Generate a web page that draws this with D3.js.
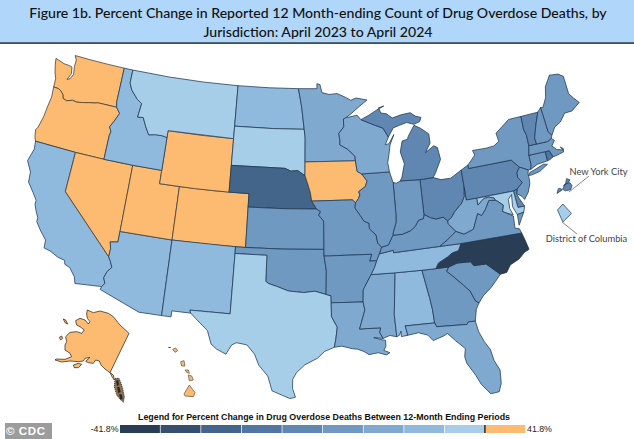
<!DOCTYPE html>
<html><head><meta charset="utf-8">
<script src="https://cdn.jsdelivr.net/npm/d3@7"></script>
<style>html,body{margin:0;padding:0;background:#fff}svg{display:block}</style>
</head><body><svg id="c" width="634" height="439"></svg>
<script>
// ---------- estimated values (percent change) ----------
const stateNames = ["WA","OR","CA","NV","AZ","UT","CO","WY","NM","ID","MT","ND","SD","NE","KS","OK","TX","MN","IA","MO","AR","LA","MS","AL","GA","FL","SC","NC","TN","KY","OH","IN","IL","WI","MIU","MIL","PA","NY","LI","NJ","DE","MD","VA","VAE","WV","CT","RI","MA","VT","NH","ME"];
const stateChanges = [3,2,-8,4,-8,1,2,3,-8,-8,-3,-8,-3,-30,-16,-17,-3,-11,2,-16,-17,-11,-11,-7,-16,-12,-16,-39,-9,-16,-21,-16,-16,-12,-20,-20,-19,-17,-17,-16,-21,-4,-16,-16,-11,-16,-24,-16,-21,-16,-17];
const legendBins = [-37.2,-32.5,-27.9,-23.2,-18.6,-13.9,-9.3,-4.6,0];
const legendColors = ["#293e55","#35506f","#43658a","#4f77a2","#5f87b2","#7099c2","#80a9d0","#90badd","#a6cee8","#fdbb72"];
const titleLines = ["Figure 1b. Percent Change in Reported 12 Month-ending Count of Drug Overdose Deaths, by","Jurisdiction: April 2023 to April 2024"];
const legendTitle = "Legend for Percent Change in Drug Overdose Deaths Between 12-Month Ending Periods";
const legendEnds = ["-41.8%","41.8%"];
const insets = [{name:"New York City",value:-20},{name:"District of Columbia",value:-3}];
const akVal=3,hiVal=2;

// ---------- shared borders (lon,lat) ----------
const snake=[[-116.92,46],[-116.7,45.8],[-116.47,45.6],[-116.7,45.2],[-116.85,44.95],[-117.2,44.45],[-117.03,44.25],[-116.95,44.1],[-117.03,43.8],[-117.03,42]];
const columbia=[[-124.05,46.27],[-123.5,46.25],[-123.2,46.15],[-122.85,45.9],[-122.75,45.65],[-122.3,45.55],[-121.7,45.7],[-121.2,45.65],[-120.6,45.73],[-119.9,45.85],[-119.3,45.93],[-119,46],[-116.92,46]];
const idMt=[[-116.05,49],[-116.05,48],[-115.7,47.5],[-114.9,46.9],[-114.35,46.65],[-114.5,45.6],[-113.9,45.65],[-113.45,45],[-113,44.45],[-112.3,44.55],[-111.5,44.55],[-111.05,44.47]];
const caRiver=[[-114.72,32.72],[-114.5,33],[-114.7,33.4],[-114.5,33.9],[-114.15,34.27],[-114.4,34.7],[-114.63,35]];
const redRiver=[[-100,34.56],[-99.7,34.4],[-98.9,34.2],[-97.9,33.9],[-97.2,33.85],[-96.5,33.8],[-95.5,33.9],[-94.49,33.65]];
const sdNe=[[-104.05,43],[-98.5,43],[-97.9,42.8],[-97.2,42.85],[-96.7,42.6],[-96.45,42.49]];
const moRiverN=[[-95.3,40],[-95.77,40.59],[-95.9,41.2],[-96.1,41.7],[-96.45,42.49]];
const ksMoN=[[-95.3,40],[-94.9,39.8],[-95.1,39.55],[-94.61,39.1],[-94.62,37]];
const mnWi=[[-92.05,46.75],[-92.3,46.66],[-92.29,46.08],[-92.85,45.6],[-92.75,45],[-92.8,44.75],[-92,44.4],[-91.25,43.85],[-91.22,43.5]];
const ilIa=[[-90.65,42.5],[-90.15,41.95],[-90.35,41.55],[-91.05,41.2],[-90.95,40.95],[-91.1,40.7],[-91.42,40.38]];
const ilMo=[[-91.42,40.38],[-91.5,40],[-91,39.4],[-90.7,39],[-90.2,38.8],[-90.2,38.4],[-89.6,37.9],[-89.5,37.3],[-89.15,36.98]];
const misMid=[[-89.4,36.5],[-89.7,36],[-89.95,35.5],[-90.3,35]];
const misLow=[[-90.3,35],[-90.6,34.6],[-91.1,33.9],[-91.17,33]];
const savannah=[[-83.11,35],[-83.35,34.7],[-82.75,34.2],[-82,33.5],[-81.5,33],[-81.15,32.2],[-80.87,32.03]];
const tnNc=[[-84.32,35],[-84,35.4],[-83.1,35.75],[-82.6,36],[-82,36.1],[-81.68,36.59]];
const scNc=[[-83.11,35],[-82.3,35.2],[-81.05,35.15],[-80.8,34.82],[-79.68,34.8],[-78.55,33.86]];
const ohioE=[[-84.82,39.1],[-84.2,38.8],[-83.7,38.65],[-83,38.72],[-82.6,38.4]];
const ohioW=[[-84.82,39.1],[-84.9,38.8],[-85.4,38.72],[-85.8,38.28],[-86.3,38],[-87.1,37.8],[-88,37.8]];
const ohioWv=[[-82.6,38.4],[-82.2,38.6],[-81.8,39],[-81,39.55],[-80.65,40],[-80.52,40.64]];
const ilIn=[[-87.53,41.7],[-87.53,39.3],[-87.6,38.7],[-87.95,38],[-88,37.8]];
const kyVa=[[-83.68,36.6],[-82.9,37],[-81.97,37.54]];
const vaWv=[[-81.97,37.54],[-81.25,37.25],[-80.3,37.5],[-79.65,38.6],[-79.3,38.4],[-78.87,38.76],[-78.35,39.4],[-77.72,39.32]];
const potomacW=[[-79.48,39.2],[-78.8,39.6],[-78.35,39.65],[-77.8,39.5],[-77.72,39.32]];
const potomacE=[[-77.72,39.32],[-77.5,39.2],[-77.05,38.85],[-77.25,38.4],[-76.95,38.25],[-76.3,38]];
const delaware=[[-75.4,39.8],[-74.75,40.2],[-75.1,40.65],[-75.05,41],[-74.7,41.36]];
const nhVt=[[-72.46,42.73],[-72.5,43.2],[-72.05,44.1],[-71.5,45.01]];
const rev=a=>a.slice().reverse();

// ---------- state outlines (lon,lat) ----------
const WA=[[[-116.92,46],...rev(columbia).slice(1),[-124.1,46.9],[-124.35,47.3],[-124.6,47.9],[-124.73,48.38],[-123.7,48.17],[-123.1,48.15],[-122.75,48.1],[-122.6,47.6],[-122.9,47.1],[-122.6,47.2],[-122.35,47.6],[-122.5,48.2],[-122.5,48.7],[-122.76,49],[-121,49],[-119,49],[-117.04,49],[-117.04,46.42]]];
const OR=[[...columbia,...snake.slice(1),[-120,42],[-124.21,42],[-124.4,42.3],[-124.55,42.84],[-124.4,43],[-124.15,43.9],[-124.07,44.7],[-123.95,45.5]]];
const CA=[[[-124.21,42],[-120,42],[-120,39],[-114.63,35],...rev(caRiver).slice(1),[-117.12,32.53],[-117.3,33],[-117.9,33.6],[-118.4,33.75],[-118.5,34.03],[-119.2,34.15],[-120,34.45],[-120.6,34.55],[-120.65,35.15],[-121.3,35.7],[-121.9,36.3],[-121.9,36.6],[-122.2,37],[-122.5,37.5],[-122.5,37.8],[-123,38.3],[-123.7,38.95],[-123.8,39.7],[-124.4,40.44],[-124.1,41.4]]];
const NV=[[[-120,42],[-117.03,42],[-114.04,42],[-114.04,37],[-114.05,36.2],[-114.75,36.1],[-114.6,35.6],[-114.63,35],[-120,39]]];
const AZ=[[...caRiver,[-114.6,35.6],[-114.75,36.1],[-114.05,36.2],[-114.04,37],[-109.05,37],[-109.05,31.33],[-111.07,31.33],[-114.81,32.49]]];
const UT=[[[-114.04,42],[-111.05,42],[-111.05,41],[-109.05,41],[-109.05,37],[-114.04,37]]];
const CO=[[[-109.05,41],[-105.5,41],[-102.05,41],[-102.05,37],[-105.5,37],[-109.05,37]]];
const WY=[[[-111.05,45],[-107.5,45],[-104.05,45],[-104.05,43],[-104.05,41],[-107.5,41],[-111.05,41],[-111.05,42],[-111.05,44.47]]];
const NM=[[[-109.05,37],[-103,37],[-103,36.5],[-103.04,32],[-106.62,32],[-106.53,31.78],[-108.21,31.78],[-108.21,31.33],[-109.05,31.33]]];
const ID=[[[-117.04,49],...idMt,[-111.05,42],[-114.04,42],[-117.03,42],...rev(snake).slice(1),[-117.04,46.42]]];
const MT=[[...idMt,[-111.05,45],[-104.05,45],[-104.05,45.94],[-104.05,49],[-108,49],[-112,49]]];
const ND=[[[-104.05,49],[-100.5,49],[-97.23,49],[-96.85,47.6],[-96.56,45.94],[-100,45.94],[-104.05,45.94]]];
const SD=[[[-104.05,45.94],[-100,45.94],[-96.56,45.94],[-96.45,45.3],[-96.45,43.5],[-96.45,42.49],...rev(sdNe).slice(1),[-104.05,45]]];
const NE=[[...sdNe,...rev(moRiverN).slice(1),[-98.5,40],[-102.05,40],[-102.05,41],[-104.05,41]]];
const KS=[[[-102.05,40],[-98.5,40],...ksMoN,[-98.5,37],[-102.05,37]]];
const OK=[[[-103,37],[-102.05,37],[-98.5,37],[-94.62,37],[-94.62,36.5],[-94.43,35.4],...rev(redRiver),[-100,36.5],[-103,36.5]]];
const TX=[[[-103,36.5],[-100,36.5],...redRiver,[-94.04,33.55],[-94.04,33.02],[-94.04,31.99],[-93.55,31.2],[-93.7,30.3],[-93.85,29.7],[-94.7,29.4],[-95.3,28.9],[-96.4,28.4],[-97.1,27.8],[-97.4,27.3],[-97.4,26.6],[-97.15,25.96],[-97.6,25.85],[-98.2,26.07],[-99.1,26.4],[-99.5,27.5],[-100.3,28.3],[-100.7,29.1],[-101.4,29.77],[-102.3,29.88],[-102.7,29.7],[-103.15,28.97],[-104,29.3],[-104.5,29.65],[-104.9,30.6],[-106,31.4],[-106.53,31.78],[-106.62,32],[-103.04,32]]];
const MN=[[[-97.23,49],[-95.15,49],[-95.15,49.38],[-94.8,49.3],[-94.6,48.7],[-93.8,48.55],[-92.9,48.6],[-92,48.3],[-91.4,48.05],[-90.8,48.2],[-89.6,48],[-90.5,47.55],[-91.5,47],...mnWi,[-96.45,43.5],[-96.45,45.3],[-96.56,45.94],[-96.85,47.6]]];
const IA=[[[-96.45,43.5],[-91.22,43.5],[-91.1,42.7],...ilIa,[-91.73,40.61],[-95.77,40.59],[-95.9,41.2],[-96.1,41.7],[-96.45,42.49]]];
const MO=[[[-95.77,40.59],[-91.73,40.61],...ilMo,[-89.4,36.5],[-89.7,36],[-90.37,36],[-90.15,36.5],[-94.62,36.5],...rev(ksMoN)]];
const AR=[[[-94.62,36.5],[-90.15,36.5],[-90.37,36],[-89.7,36],[-89.95,35.5],...misLow,[-94.04,33.02],[-94.04,33.55],[-94.49,33.65],[-94.43,35.4]]];
const LA=[[[-94.04,33.02],[-91.17,33],[-91.05,32.4],[-91.6,31],[-89.75,31],[-89.85,30.65],[-89.6,30.2],[-90.4,30.3],[-89.7,30.1],[-89.4,30.05],[-89.4,29.6],[-89.6,29.3],[-89.1,29.1],[-89.4,28.95],[-90.1,29.15],[-90.9,29.05],[-91.3,29.3],[-91.85,29.5],[-92.3,29.55],[-93.2,29.77],[-93.85,29.7],[-93.7,30.3],[-93.55,31.2],[-94.04,31.99]]];
const MS=[[[-90.3,35],[-88.2,35],[-88.1,34.9],[-88.47,31.9],[-88.4,30.25],[-89,30.38],[-89.6,30.2],[-89.85,30.65],[-89.75,31],[-91.6,31],[-91.05,32.4],[-91.17,33],[-91.1,33.9],[-90.6,34.6]]];
const AL=[[[-88.2,35],[-85.6,35],[-85.18,32.87],[-85.05,32],[-85,31],[-87.6,31],[-87.45,30.4],[-87.5,30.28],[-88,30.23],[-88,30.65],[-88.15,30.35],[-88.4,30.25],[-88.47,31.9],[-88.1,34.9]]];
const GA=[[[-85.6,35],[-84.32,35],...savannah,[-81.2,31.6],[-81.45,30.72],[-82.05,30.75],[-82.2,30.57],[-84.86,30.7],[-85,31],[-85.05,32],[-85.18,32.87]]];
const FL=[[[-87.6,31],[-85,31],[-84.86,30.7],[-82.2,30.57],[-82.05,30.75],[-81.45,30.72],[-81.3,29.9],[-80.95,29.1],[-80.55,28.45],[-80.4,27.6],[-80.03,26.8],[-80.12,25.8],[-80.4,25.2],[-81.1,25.15],[-81.75,25.95],[-82.1,26.7],[-82.7,27.7],[-82.8,28.2],[-82.65,28.8],[-83.4,29.5],[-84,30.1],[-84.35,29.95],[-85.3,29.7],[-85.7,30.15],[-86.5,30.4],[-87.5,30.28],[-87.45,30.4]]];
const SC=[[...scNc,[-79.1,33.4],[-79.6,33],[-80.4,32.5],...rev(savannah).slice(0,-1)]];
const NC=[[...tnNc,[-75.87,36.55],[-75.7,36],[-75.52,35.25],[-76,35.1],[-76.6,34.7],[-77.5,34.4],[-77.95,33.9],...rev(scNc)]];
const TN=[[[-90.3,35],[-88.2,35],[-85.6,35],...tnNc,[-83.68,36.6],[-88.07,36.5],[-88.07,36.68],...misMid]];
const KY=[[[-89.4,36.5],[-88.07,36.68],[-88.07,36.5],...kyVa,[-82.6,38.17],...rev(ohioE),...ohioW.slice(1),[-88.5,37.1],[-89.15,36.98]]];
const OH=[[...ohioE,...ohioWv.slice(1),[-80.52,41.98],[-81.7,41.5],[-82.7,41.5],[-83.45,41.73],[-84.8,41.7]]];
const IN=[[...ohioW,...rev(ilIn).slice(1),[-87.2,41.62],[-86.8,41.76],[-84.8,41.7]]];
const IL=[[...ilIa,...ilMo.slice(1),[-88.5,37.1],...rev(ilIn),[-87.6,41.9],[-87.8,42.5]]];
const WI=[[...mnWi,[-91.1,42.7],[-90.65,42.5],[-87.8,42.5],[-87.9,43.2],[-87.7,43.8],[-87.5,44.5],[-87,45.25],[-87.6,44.6],[-88,44.55],[-87.6,45.1],[-88.1,45.8],[-88.9,46.05],[-90.4,46.55],[-90.8,46.9],[-91.2,46.85]]];
const MIU=[[[-90.4,46.55],[-88.9,46.05],[-88.1,45.8],[-87.6,45.1],[-87,45.75],[-86.3,45.9],[-85.5,46.05],[-84.75,45.85],[-84.1,46],[-83.9,46.3],[-84.5,46.45],[-85,46.75],[-86,46.67],[-87,46.5],[-87.6,46.85],[-88.2,46.95],[-88.4,47.35],[-87.8,47.45],[-88.6,47.2],[-89.5,46.85]]];
const MIL=[[[-84.8,41.7],[-83.45,41.73],[-83.15,42.05],[-82.45,43],[-82.6,43.9],[-82.95,44.07],[-83.9,43.65],[-83.3,44.3],[-83.3,45],[-84.1,45.5],[-84.75,45.78],[-85.5,45],[-85.6,44.8],[-86.2,44.7],[-86.5,43.9],[-86.2,43],[-86.6,42],[-86.8,41.76]]];
const PA=[[[-80.52,41.98],[-80.52,40.64],[-80.52,39.72],[-79.48,39.72],[-75.79,39.72],...delaware,[-75.35,42],[-79.76,42],[-79.76,42.27]]];
const NY=[[[-79.76,42.27],[-79.76,42],[-75.35,42],[-74.7,41.36],[-73.9,41],[-73.65,41],[-73.5,41.3],[-73.49,42.05],[-73.27,42.75],[-73.25,43.55],[-73.4,44],[-73.35,45.01],[-74.7,45],[-75.5,44.6],[-76.3,44.2],[-76.2,43.55],[-76.8,43.3],[-77.6,43.25],[-79.05,43.27],[-78.9,42.9]]];
const LI=[[[-74.02,40.6],[-73.8,40.8],[-73.1,40.95],[-72.3,41.15],[-71.9,41.07],[-72.8,40.7],[-73.7,40.58]]];
const NJ=[[...rev(delaware),[-75.55,39.5],[-75.1,39.2],[-74.9,38.93],[-74.4,39.4],[-74.05,40],[-74,40.45],[-74.02,40.7],[-73.9,41]]];
const DE=[[[-75.79,39.72],[-75.4,39.8],[-75.55,39.5],[-75.4,39.1],[-75.05,38.45],[-75.7,38.46]]];
const MD=[[[-79.48,39.72],[-79.48,39.2],...potomacW.slice(1),...potomacE.slice(1),[-76.5,38.5],[-76.45,39.2],[-76.05,39.5],[-76.2,38.6],[-75.9,37.95],[-75.25,38.03],[-75.05,38.45],[-75.7,38.46],[-75.79,39.72]]];
const VA=[[...kyVa,...vaWv.slice(1),...potomacE.slice(1,-1),[-76.3,37.9],[-76.4,37],[-76,36.9],[-75.87,36.55],[-81.68,36.59]]];
const VAE=[[[-75.95,37.15],[-75.6,37.6],[-75.25,38.03],[-75.9,37.95]]];
const WV=[[[-80.52,40.64],[-80.52,39.72],[-79.48,39.72],...potomacW,...rev(vaWv).slice(1),[-82.6,38.17],[-82.6,38.4],...ohioWv.slice(1,-1)]];
const CT=[[[-73.65,41],[-73.5,41.3],[-73.49,42.05],[-71.8,42.02],[-71.8,41.32],[-72.9,41.25]]];
const RI=[[[-71.8,42.02],[-71.38,42.02],[-71.15,41.5],[-71.5,41.37],[-71.8,41.32]]];
const MA=[[[-73.49,42.05],[-73.27,42.75],[-72.46,42.73],[-71.3,42.7],[-70.85,42.87],[-70.6,42.65],[-71,42.3],[-70.6,41.95],[-70,41.8],[-70.2,42.05],[-69.95,41.9],[-70,41.65],[-70.65,41.55],[-71.15,41.5],[-71.38,42.02],[-71.8,42.02]]];
const VT=[[[-73.27,42.75],...nhVt,[-73.35,45.01],[-73.4,44],[-73.25,43.55]]];
const NH=[[...nhVt,[-71.08,45.3],[-70.98,43.4],[-70.7,43.07],[-70.85,42.87],[-71.3,42.7]]];
const ME=[[[-70.7,43.07],[-70.2,43.6],[-69.5,43.85],[-68.8,44.4],[-68,44.4],[-67,44.85],[-67.45,45.3],[-67.8,45.7],[-67.8,47.07],[-68.3,47.35],[-69,47.43],[-69.22,47.46],[-70,46.7],[-70.3,45.9],[-70.85,45.25],[-71.08,45.3],[-70.98,43.4]]];
const outlines={WA,OR,CA,NV,AZ,UT,CO,WY,NM,ID,MT,ND,SD,NE,KS,OK,TX,MN,IA,MO,AR,LA,MS,AL,GA,FL,SC,NC,TN,KY,OH,IN,IL,WI,MIU,MIL,PA,NY,LI,NJ,DE,MD,VA,VAE,WV,CT,RI,MA,VT,NH,ME};

// Alaska and Hawaii: outlines, in planar units of the picture's inset
const AK=[[[97,30],[115,38],[135,33],[160,40],[175,50],[195,75],[222,100],[165,218],[150,207],[138,195],[133,183],[122,180],[115,190],[100,188],[92,184],[105,172],[90,175],[85,183],[70,185],[45,183],[20,186],[0,180],[3,177],[30,178],[50,170],[45,160],[30,150],[30,135],[35,125],[32,110],[45,97],[65,95],[80,100],[88,90],[75,80],[65,75],[62,62],[75,55],[90,60],[100,72],[105,65],[97,55],[95,42]]];
const AKI=[[[55,195],[70,190],[80,193],[70,203],[58,203]],[[25,57],[32,60],[38,72],[30,68]],[[13,112],[20,108],[23,115],[17,120]],[[165,218],[175,225],[178,240],[172,232]]];
const AKP=[[[180,235],[192,235],[198,250],[203,265],[208,290],[205,307],[195,298],[185,285],[178,260]]];
const AKS=[[[183,242],[190,240],[192,255],[186,258]],[[186,262],[193,260],[197,275],[190,280]],[[192,283],[200,283],[203,298],[196,298]]];
const HI=[[[372,312],[388,285],[405,308],[400,320],[375,318]],[[385,255],[395,258],[400,270],[388,272]],[[375,240],[385,240],[388,250],[380,247]],[[362,215],[372,212],[375,228],[365,228]],[[338,178],[347,174],[353,182],[345,187]]];
const NII=[[[325,172],[332,171],[332,174],[325,174]]];
const DC=[[[-77.04,39],[-76.91,38.89],[-77.04,38.79],[-77.12,38.93]]];
const NYC=[[[-74.25,40.5],[-74.05,40.6],[-74.15,40.64],[-74.2,40.63]],[[-74.04,40.62],[-73.95,40.75],[-73.78,40.8],[-73.7,40.72],[-73.75,40.6],[-73.95,40.57]],[[-74.02,40.7],[-73.93,40.78],[-73.9,40.91],[-73.78,40.88],[-73.82,40.81],[-73.94,40.76]]];

// ---------- helpers ----------
function feature(rings){
  const polys=rings.map(r=>{const c=r.concat([r[0]]);let p={type:"Polygon",coordinates:[c]};
    if(d3.geoArea(p)>2*Math.PI)p={type:"Polygon",coordinates:[c.slice().reverse()]};return p.coordinates;});
  return {type:"Feature",geometry:{type:"MultiPolygon",coordinates:polys}};
}
const planar=rings=>({type:"MultiPolygon",coordinates:rings.map(r=>[r.concat([r[0]])])});
const color=d3.scaleThreshold().domain(legendBins).range(legendColors);
const strokeFor=v=>v>0?"#3d3a36":"#1e3550";

const svg=d3.select("#c");
svg.append("rect").attr("width",634).attr("height",439).attr("fill","#fff");

// header
svg.append("rect").attr("width",634).attr("height",43).attr("fill","#b0d7f9");
svg.append("rect").attr("y",42.4).attr("width",634).attr("height",1.4).attr("fill","#1c2226");
svg.selectAll("text.t").data(titleLines).join("text").attr("class","t")
  .attr("x",318).attr("y",(d,i)=>18+i*19).attr("text-anchor","middle")
  .attr("font-family","Lato").attr("font-size",14.1).attr("font-weight",500).attr("fill","#111").text(d=>d);

// main map
const proj=d3.geoConicEqualArea().parallels([29.5,45.5]).rotate([96,0]).center([0,38]).scale(765).translate([309.4,236]);
const path=d3.geoPath(proj);
const rows=stateNames.map((n,i)=>({n,v:stateChanges[i],f:feature(outlines[n])}));
svg.append("g").selectAll("path").data(rows).join("path").attr("d",d=>path(d.f))
  .attr("fill",d=>color(d.v)).attr("stroke",d=>strokeFor(d.v)).attr("stroke-width",.75).attr("stroke-linejoin","round");

// Alaska and Hawaii, read in the picture's crop units
const akPath=d3.geoPath(d3.geoIdentity().scale(1/3).translate([55,300]));
const hiPath=d3.geoPath(d3.geoIdentity().scale(1/3).translate([60,290]));
svg.append("path").attr("d",akPath(planar([...AK,...AKI]))).attr("fill",color(akVal)).attr("stroke","#2e2a24").attr("stroke-width",.75).attr("stroke-linejoin","round");
svg.append("path").attr("d",akPath(planar(AKP))).attr("fill","#8c7052").attr("stroke","#2b2621").attr("stroke-width",.8).attr("stroke-dasharray","1.2 .8");
svg.append("path").attr("d",akPath(planar(AKS))).attr("fill","#2b2621").attr("stroke","none");
svg.append("path").attr("d",hiPath(planar(HI))).attr("fill",color(hiVal)).attr("stroke","#6b5a40").attr("stroke-width",.75);
svg.append("path").attr("d",hiPath(planar(NII))).attr("fill","#2b2621");

// insets
const nycF=feature(NYC),dcF=feature(DC);
const nycP=d3.geoMercator().fitExtent([[557,177],[572,195]],nycF);
const dcP=d3.geoMercator().fitExtent([[557,204],[572,222]],dcF);
svg.append("path").attr("d",d3.geoPath(nycP)(nycF)).attr("fill",color(insets[0].value)).attr("stroke","#1e3550").attr("stroke-width",.7);
svg.append("path").attr("d",d3.geoPath(dcP)(dcF)).attr("fill",color(insets[1].value)).attr("stroke","#1e3550").attr("stroke-width",.7);
svg.append("line").attr("x1",589).attr("y1",176).attr("x2",569).attr("y2",192).attr("stroke","#555").attr("stroke-width",.7);
svg.append("line").attr("x1",562).attr("y1",222).attr("x2",577).attr("y2",234).attr("stroke","#555").attr("stroke-width",.7);
[[insets[0].name,598.5,174.5],[insets[1].name,586.5,241.5]].forEach(([t,x,y])=>svg.append("text").attr("x",x).attr("y",y).attr("text-anchor","middle")
  .attr("font-family","Lato").attr("font-size",9.3).attr("fill","#444").text(t));

// legend
const lx=d3.scaleBand().domain(d3.range(legendColors.length)).range([120,526]);
svg.selectAll("rect.lg").data(legendColors).join("rect").attr("class","lg")
  .attr("x",(d,i)=>lx(i)).attr("y",425).attr("width",lx.bandwidth()-.7).attr("height",8).attr("fill",d=>d);
svg.append("rect").attr("x",lx(9)-1.4).attr("y",425).attr("width",1.8).attr("height",8).attr("fill","#444");
svg.append("text").attr("x",324).attr("y",420).attr("text-anchor","middle").attr("font-family","Liberation Sans").attr("font-weight",700)
  .attr("font-size",9.2).attr("textLength",372).attr("lengthAdjust","spacingAndGlyphs").attr("fill","#111").text(legendTitle);
svg.append("text").attr("x",118.5).attr("y",432).attr("text-anchor","end").attr("font-family","Liberation Sans").attr("font-size",8.8).attr("fill","#222").text(legendEnds[0]);
svg.append("text").attr("x",527).attr("y",432).attr("font-family","Liberation Sans").attr("font-size",8.8).attr("fill","#222").text(legendEnds[1]);
svg.append("rect").attr("x",5).attr("y",423).attr("width",47).attr("height",16).attr("fill","#9c9c9c");
svg.append("text").attr("x",6).attr("y",435).attr("font-family","Liberation Sans").attr("font-weight",700).attr("font-size",11.5).attr("letter-spacing",.6).attr("fill","#fff").text("© CDC");
</script></body></html>
